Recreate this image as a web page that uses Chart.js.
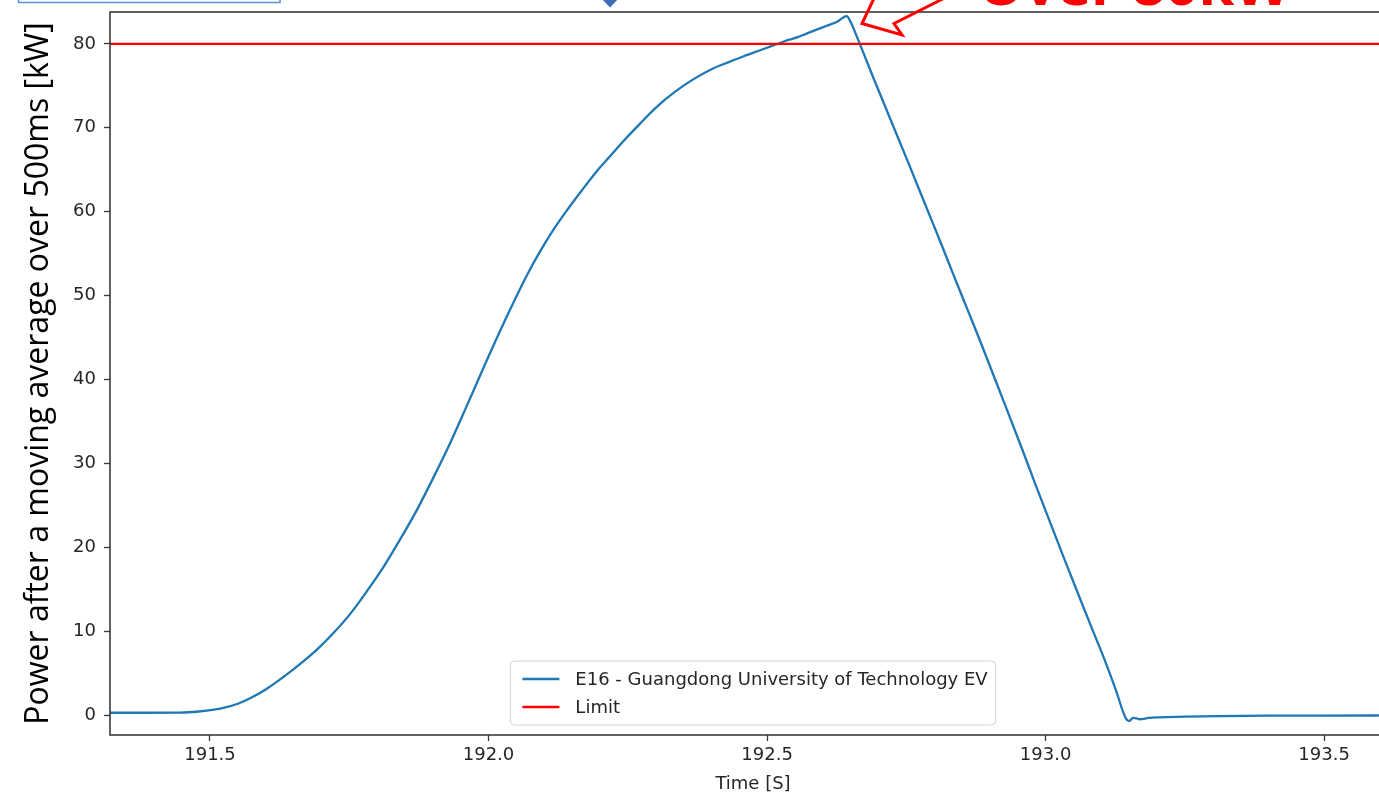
<!DOCTYPE html>
<html lang="en">
<head>
    <meta charset="UTF-8">
    <title>Power after a moving average over 500ms</title>
    <script src="https://cdn.jsdelivr.net/npm/chart.js"></script>
    <style>
        html, body { margin: 0; padding: 0; background: #fff; overflow: hidden; }
        #wrap { position: relative; width: 1400px; height: 793px; }
    </style>
</head>
<body>
    <div id="wrap">
        <canvas id="chartPower"></canvas>
    </div>

    <script>
        // Time axis [s] and measured power [kW] (moving average over 500ms)
        const timeS = [
            191.320, 191.380, 191.446, 191.480, 191.510, 191.524, 191.550, 191.572, 191.600, 191.632,
            191.662, 191.692, 191.722, 191.751, 191.781, 191.811, 191.841, 191.871, 191.901, 191.931,
            191.958, 191.991, 192.018, 192.045, 192.068, 192.092, 192.116, 192.140, 192.167, 192.194,
            192.218, 192.242, 192.272, 192.302, 192.335, 192.368, 192.404, 192.430, 192.457, 192.490,
            192.510, 192.523, 192.540, 192.555, 192.570, 192.589, 192.605, 192.625, 192.643, 192.650,
            192.661, 192.693, 192.724, 192.755, 192.783, 192.810, 192.835, 192.860, 192.883, 192.903,
            192.930, 192.959, 192.980, 193.002, 193.033, 193.064, 193.087, 193.107, 193.126, 193.144,
            193.150, 193.157, 193.163, 193.169, 193.185, 193.200, 193.250, 193.311, 193.400, 193.500,
            193.629
        ];
        const powerKW = [
            0.27, 0.27, 0.28, 0.42, 0.68, 0.85, 1.35, 2.0, 3.05, 4.55,
            6.1, 7.8, 9.8, 12.0, 14.7, 17.6, 20.9, 24.4, 28.3, 32.4,
            36.4, 41.4, 45.4, 49.2, 52.3, 55.2, 57.8, 60.1, 62.5, 64.8,
            66.6, 68.4, 70.5, 72.5, 74.3, 75.8, 77.1, 77.8, 78.5, 79.3,
            79.8, 80.1, 80.5, 80.8, 81.2, 81.7, 82.1, 82.6, 83.3, 82.6,
            80.9, 75.6, 70.6, 65.6, 61.0, 56.6, 52.4, 48.3, 44.5, 41.1,
            36.5, 31.5, 27.8, 24.0, 18.7, 13.5, 9.7, 6.4, 3.0, -0.4,
            -0.72, -0.35, -0.4, -0.5, -0.35, -0.28, -0.2, -0.13, -0.08, -0.06,
            -0.05
        ];
        const limitKW = 80;

        const xTicks = [191.5, 192.0, 192.5, 193.0, 193.5];
        const yTicks = [0, 10, 20, 30, 40, 50, 60, 70, 80];
        const xRange = [191.3205, 193.629];
        const yRange = [-2.38, 83.8];

        const seriesLabel = 'E16 - Guangdong University of Technology EV';
        const limitLabel = 'Limit';

        const tickFont = { family: 'DejaVu Sans', size: 18 };
        const inkColor = '#262626';

        // Frame (matplotlib spines) round the plot area
        const framePlugin = {
            id: 'frame',
            afterDatasetsDraw(chart) {
                const { ctx, chartArea: a } = chart;
                ctx.save();
                ctx.strokeStyle = '#3a3a3a';
                ctx.lineWidth = 1.6;
                ctx.strokeRect(a.left, a.top, a.right - a.left, a.bottom - a.top);
                ctx.restore();
            }
        };

        // Legend box in the lower centre of the plot area, like matplotlib
        const boxLegendPlugin = {
            id: 'boxLegend',
            afterDraw(chart) {
                const { ctx, chartArea: a } = chart;
                const sets = chart.data.datasets;
                ctx.save();
                ctx.font = '18px "DejaVu Sans"';
                const textW = Math.max(...sets.map(d => ctx.measureText(d.label).width));
                const w = 65 + textW + 8;
                const h = 64;
                const left = (a.left + a.right) / 2 - w / 2;
                const top = a.bottom - 10 - h;
                ctx.beginPath();
                ctx.roundRect(left, top, w, h, 4);
                ctx.fillStyle = 'rgba(255,255,255,0.85)';
                ctx.fill();
                ctx.strokeStyle = '#d2d2d2';
                ctx.lineWidth = 1;
                ctx.stroke();
                sets.forEach((d, i) => {
                    const y = top + 18 + i * 28;
                    ctx.beginPath();
                    ctx.moveTo(left + 12, y);
                    ctx.lineTo(left + 49, y);
                    ctx.strokeStyle = d.borderColor;
                    ctx.lineWidth = 2.4;
                    ctx.stroke();
                    ctx.fillStyle = inkColor;
                    ctx.textBaseline = 'middle';
                    ctx.fillText(d.label, left + 65, y + 1);
                });
                ctx.restore();
            }
        };

        // Slide callouts cut off at the top edge of the picture
        const calloutPlugin = {
            id: 'callouts',
            afterDraw(chart) {
                const { ctx } = chart;
                ctx.save();
                // text box outline at the top left
                ctx.strokeStyle = '#5b8fd6';
                ctx.lineWidth = 1.5;
                ctx.strokeRect(18.5, -10, 261.5, 12.5);
                // tip of the blue marker
                ctx.beginPath();
                ctx.moveTo(600, -3);
                ctx.lineTo(620, -3);
                ctx.lineTo(610, 7.5);
                ctx.closePath();
                ctx.fillStyle = '#3c6db5';
                ctx.fill();
                // red block arrow pointing at the peak
                ctx.beginPath();
                ctx.moveTo(879, -12);
                ctx.lineTo(862, 23.5);
                ctx.lineTo(902, 35);
                ctx.lineTo(894, 23.5);
                ctx.lineTo(1000, -30);
                ctx.strokeStyle = '#ff0000';
                ctx.lineWidth = 3;
                ctx.lineJoin = 'miter';
                ctx.stroke();
                // red label
                const label = 'Over 80kW';
                ctx.font = 'bold 100px "Open Sans"';
                const size = 100 * 312 / ctx.measureText(label).width;
                ctx.font = 'bold ' + size.toFixed(1) + 'px "Open Sans"';
                ctx.fillStyle = '#ff0000';
                ctx.textBaseline = 'alphabetic';
                ctx.fillText(label, 978, 4.5);
                ctx.restore();
            }
        };

        // no extra room for the end tick labels, the plot area is set by the padding
        const noEdgePadding = s => {
            s.paddingTop = 0;
            s.paddingBottom = 0;
            s.paddingLeft = 0;
            s.paddingRight = 0;
        };

        const ctx = document.getElementById('chartPower').getContext('2d');
        const chart = new Chart(ctx, {
            type: 'line',
            data: {
                datasets: [
                    {
                        label: seriesLabel,
                        data: timeS.map((t, i) => ({ x: t, y: powerKW[i] })),
                        borderColor: '#1f77b4',
                        borderWidth: 2.3,
                        pointRadius: 0,
                        cubicInterpolationMode: 'monotone',
                        order: 1
                    },
                    {
                        label: limitLabel,
                        data: xRange.map(t => ({ x: t, y: limitKW })),
                        borderColor: '#ff0000',
                        borderWidth: 2.3,
                        pointRadius: 0,
                        order: 0
                    }
                ]
            },
            options: {
                responsive: true,
                maintainAspectRatio: false,
                animation: false,
                layout: { padding: { top: 12, right: 4, left: 0, bottom: 0 } },
                plugins: {
                    legend: { display: false },
                    tooltip: { enabled: false }
                },
                scales: {
                    x: {
                        type: 'linear',
                        min: xRange[0],
                        max: xRange[1],
                        afterBuildTicks: s => { s.ticks = xTicks.map(v => ({ value: v })); },
                        afterFit: s => { s.height = 58; noEdgePadding(s); },
                        border: { display: false },
                        grid: { drawOnChartArea: false, drawTicks: true, tickLength: 6, tickColor: '#3a3a3a', tickWidth: 1.3 },
                        ticks: { font: tickFont, color: inkColor, padding: 4, maxRotation: 0, callback: v => v.toFixed(1) },
                        title: { display: true, text: 'Time [S]', font: { family: 'DejaVu Sans', size: 18 }, color: inkColor, padding: { top: 0, bottom: -2 } }
                    },
                    y: {
                        min: yRange[0],
                        max: yRange[1],
                        afterBuildTicks: s => { s.ticks = yTicks.map(v => ({ value: v })); },
                        afterFit: s => { s.width = 110; noEdgePadding(s); },
                        border: { display: false },
                        grid: { drawOnChartArea: false, drawTicks: true, tickLength: 6, tickColor: '#3a3a3a', tickWidth: 1.3 },
                        ticks: { font: tickFont, color: inkColor, padding: 8 },
                        title: { display: true, text: 'Power after a moving average over 500ms [kW]', font: { family: 'Open Sans', size: 32 }, color: '#000', padding: { top: 20, bottom: 0 } }
                    }
                }
            },
            plugins: [framePlugin, boxLegendPlugin, calloutPlugin]
        });
    </script>
</body>
</html>
